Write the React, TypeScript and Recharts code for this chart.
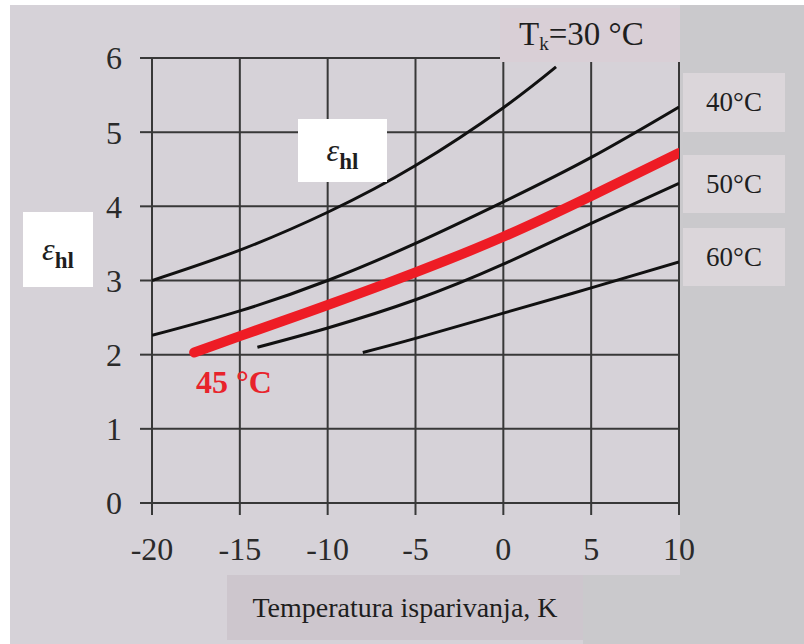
import React from 'react';
import { LineChart, Line, XAxis, YAxis, CartesianGrid } from 'recharts';

const xTicks = [-20, -15, -10, -5, 0, 5, 10];
const yTicks = [0, 1, 2, 3, 4, 5, 6];

const t30X = [-20, -15, -10, -5, 0, 3];
const t30Y = [3.0, 3.41, 3.92, 4.55, 5.33, 5.88];
const t40X = [-20, -15, -10, -5, 0, 5, 10];
const t40Y = [2.26, 2.59, 3.0, 3.5, 4.06, 4.66, 5.34];
const t45X = [-17.6, -15, -10, -5, 0, 5, 10];
const t45Y = [2.03, 2.25, 2.67, 3.11, 3.59, 4.14, 4.72];
const t50X = [-14, -10, -5, 0, 5, 10];
const t50Y = [2.1, 2.36, 2.74, 3.22, 3.77, 4.31];
const t60X = [-8, -5, 0, 5, 10];
const t60Y = [2.03, 2.22, 2.56, 2.9, 3.25];

const zip = (xs: number[], ys: number[]) => xs.map((x, i) => ({ x, y: ys[i] }));

const serif = '"Liberation Serif", "DejaVu Serif", serif';
const ink = '#1e1e1e';

const box = (
  left: number, top: number, width: number, height: number, bg: string
): React.CSSProperties => ({
  position: 'absolute', left, top, width, height, background: bg,
  display: 'flex', alignItems: 'center', justifyContent: 'center',
  fontFamily: serif, color: ink, boxSizing: 'border-box',
});

const Eps = () => (
  <span style={{ whiteSpace: 'nowrap' }}>
    <span style={{ fontStyle: 'italic', fontSize: 32 }}>ε</span>
    <span style={{ fontWeight: 'bold', fontSize: 23, position: 'relative', top: 8 }}>hl</span>
  </span>
);

export default function App() {
  const tickStyle = { fontFamily: serif, fontSize: 32, fill: '#2a2a2a' };
  return (
    <div style={{ position: 'absolute', left: 0, top: 0, width: 804, height: 644, background: '#ffffff', overflow: 'hidden' }}>
      <div style={{ position: 'absolute', left: 10, top: 5, width: 794, height: 639, background: '#d6d2d8' }} />
      <div style={{ position: 'absolute', left: 680, top: 5, width: 124, height: 639, background: '#cac9cc' }} />
      <div style={{ position: 'absolute', left: 583, top: 575, width: 221, height: 69, background: '#cac9cc' }} />
      <div style={{ position: 'absolute', left: 0, top: 0 }}>
        <LineChart width={804} height={644} margin={{ top: 58, right: 125, bottom: 81, left: 92 }}>
          <CartesianGrid stroke="#383838" strokeWidth={2} />
          <XAxis
            dataKey="x"
            type="number"
            domain={[-20, 10]}
            ticks={xTicks}
            allowDataOverflow
            axisLine={false}
            tickLine={{ stroke: '#383838', strokeWidth: 2 }}
            tickSize={12}
            tickMargin={22}
            height={60}
            tick={tickStyle}
          />
          <YAxis
            dataKey="y"
            type="number"
            domain={[0, 6]}
            ticks={yTicks}
            allowDataOverflow
            axisLine={false}
            tickLine={{ stroke: '#383838', strokeWidth: 2 }}
            tickSize={12}
            tickMargin={18}
            width={60}
            tick={tickStyle}
          />
          <Line data={zip(t30X, t30Y)} dataKey="y" type="natural" stroke="#111" strokeWidth={3} dot={false} isAnimationActive={false} />
          <Line data={zip(t40X, t40Y)} dataKey="y" type="natural" stroke="#111" strokeWidth={3} dot={false} isAnimationActive={false} />
          <Line data={zip(t50X, t50Y)} dataKey="y" type="natural" stroke="#111" strokeWidth={3} dot={false} isAnimationActive={false} />
          <Line data={zip(t60X, t60Y)} dataKey="y" type="natural" stroke="#111" strokeWidth={3} dot={false} isAnimationActive={false} />
          <Line data={zip(t45X, t45Y)} dataKey="y" type="natural" stroke="#ee1c25" strokeWidth={10} strokeLinecap="round" dot={false} isAnimationActive={false} />
        </LineChart>
      </div>

      <div style={{ ...box(500, 8, 180, 54, '#d9cfd6'), justifyContent: 'flex-start', paddingLeft: 19 }}>
        <span style={{ fontSize: 33, whiteSpace: 'nowrap' }}>
          T<sub style={{ fontSize: 19, verticalAlign: -5 }}>k</sub>=30 °C
        </span>
      </div>

      <div style={box(683, 73, 102, 59, '#dbd6da')}><span style={{ fontSize: 27 }}>40°C</span></div>
      <div style={box(683, 155, 102, 58, '#dbd6da')}><span style={{ fontSize: 27 }}>50°C</span></div>
      <div style={box(683, 228, 102, 58, '#dbd6da')}><span style={{ fontSize: 27 }}>60°C</span></div>

      <div style={box(298, 119, 89, 63, '#ffffff')}><Eps /></div>
      <div style={box(23, 212, 70, 75, '#ffffff')}><Eps /></div>

      <div style={{ position: 'absolute', left: 196, top: 364, fontFamily: serif, fontWeight: 'bold', fontSize: 32, color: '#e8232b', whiteSpace: 'nowrap' }}>
        45 °C
      </div>

      <div style={box(227, 575, 356, 65, '#cdc6cd')}>
        <span style={{ fontSize: 28, whiteSpace: 'nowrap' }}>Temperatura isparivanja, K</span>
      </div>
    </div>
  );
}
